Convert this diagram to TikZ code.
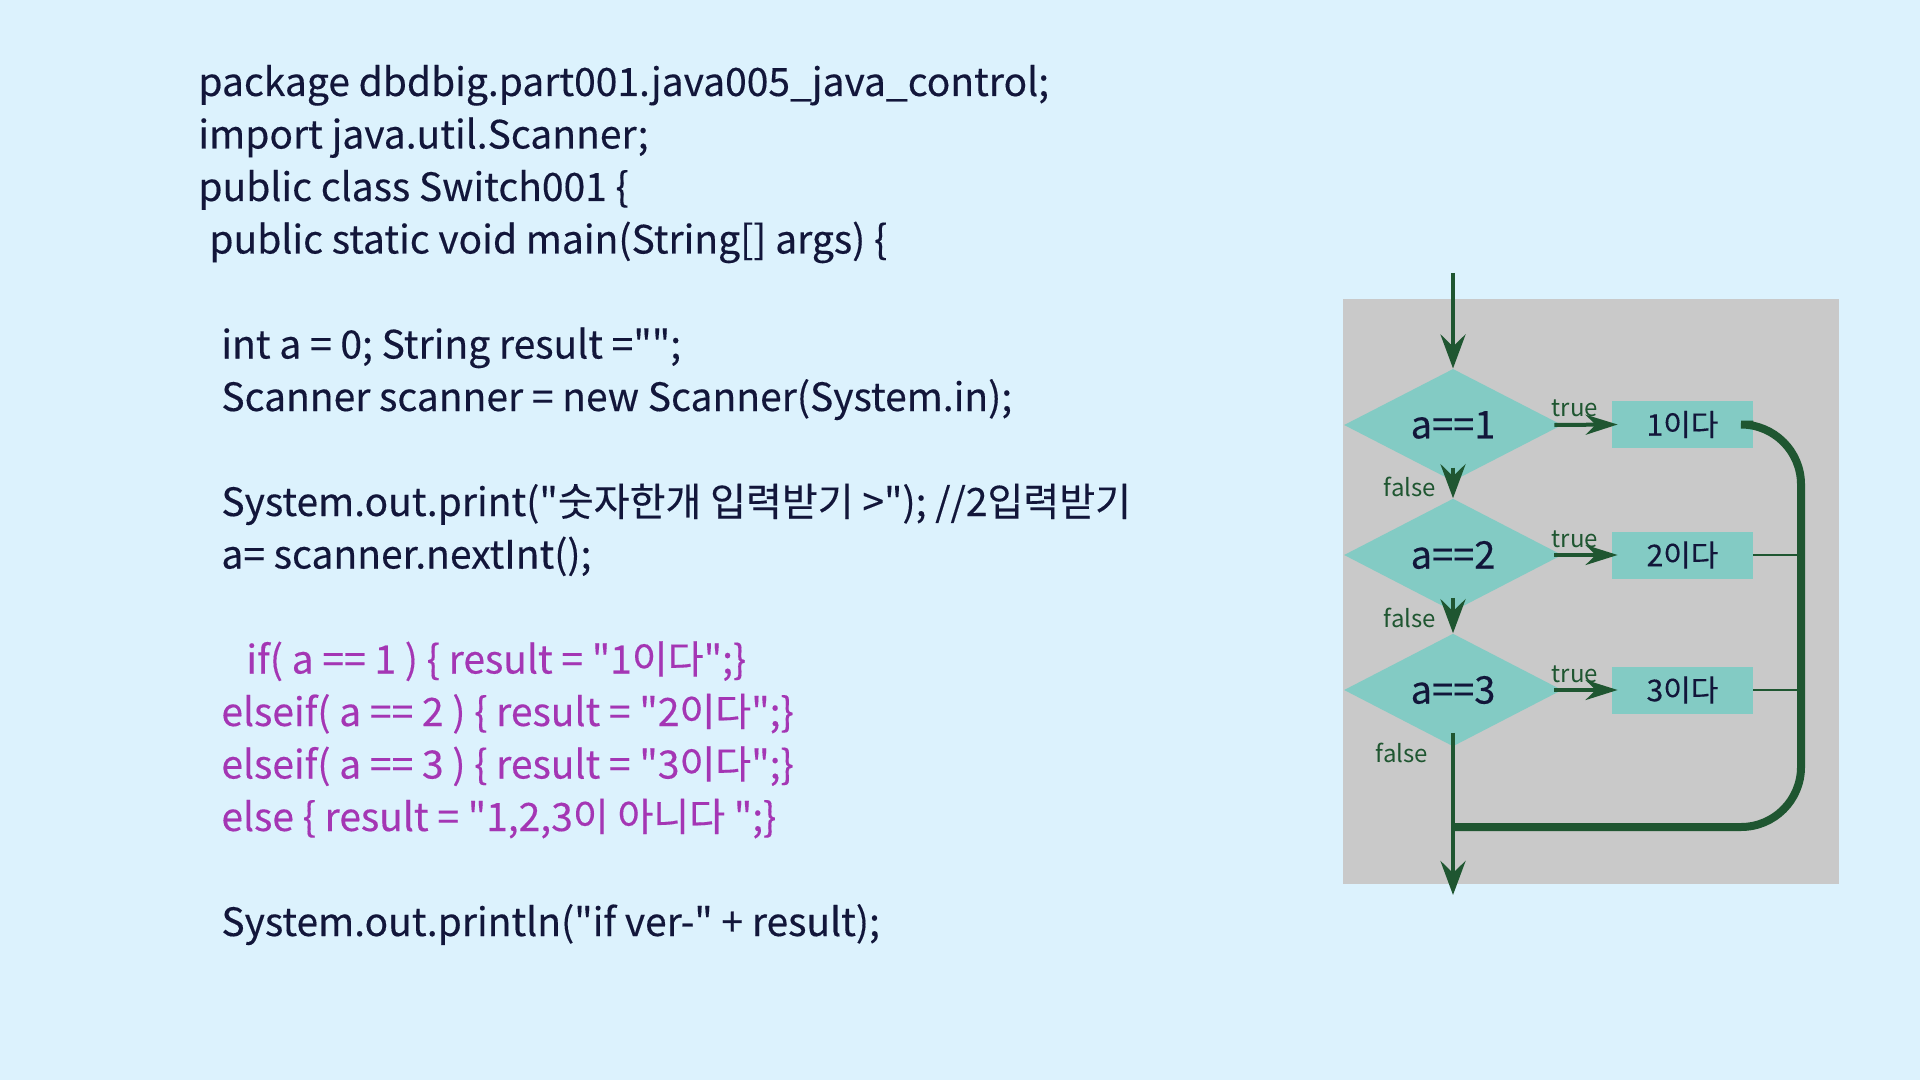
\documentclass[tikz,border=0pt]{standalone}
\usepackage{fontspec}
\newfontfamily\codefont{Noto Sans CJK KR}[FakeBold=0.3]
\newfontfamily\chartfont{Noto Sans CJK KR}
\usetikzlibrary{arrows.meta,shapes.geometric}
\definecolor{bgblue}{HTML}{DCF2FD}
\definecolor{navy}{HTML}{12163A}
\definecolor{purp}{HTML}{A436B4}
\definecolor{boxgray}{HTML}{C9C9C9}
\definecolor{tealfill}{HTML}{83CBC4}
\definecolor{dgreen}{HTML}{1F5631}
\begin{document}
\begin{tikzpicture}[x=0.5pt,y=-0.5pt,
  code/.style={anchor=base west,inner sep=0pt,font=\codefont\fontsize{19.5pt}{24pt}\selectfont,text=navy},
  codep/.style={code,text=purp},
  cond/.style={diamond,fill=tealfill,minimum width=109pt,minimum height=51.5pt,inner sep=0pt,font=\codefont\fontsize{19pt}{22pt}\selectfont,text=navy},
  res/.style={rectangle,fill=tealfill,minimum width=70.5pt,minimum height=23.5pt,inner sep=0pt,font=\codefont\fontsize{15pt}{18pt}\selectfont,text=navy},
  lbl/.style={inner sep=0pt,font=\chartfont\fontsize{12pt}{14pt}\selectfont,text=dgreen},
  flow/.style={draw=dgreen,line width=2.35pt,-{Stealth[length=17pt,width=12.5pt,inset=6pt]}},
  truearr/.style={draw=dgreen,line width=2pt,-{Stealth[length=16pt,width=10pt,inset=5pt]}},
  retline/.style={draw=dgreen,line width=4pt,rounded corners=30pt},
  thinline/.style={draw=dgreen,line width=1pt}
]
\fill[bgblue] (0,0) rectangle (1920,1080);
\useasboundingbox (0,0) rectangle (1920,1080);

% code
\node[code] (l1) at (198,96) {package dbdbig.part001.java005\_java\_control;};
\node[code] (l2) at (198,148.5) {import java.util.Scanner;};
\node[code] (l3) at (198,201) {public class Switch001 \{};
\node[code] (l4) at (209,253.5) {public static void main(String[] args) \{};
\node[code] (l5) at (221,358.5) {int a = 0; String result ="";};
\node[code] (l6) at (221,411) {Scanner scanner = new Scanner(System.in);};
\node[code] (l7) at (221,516) {System.out.print("숫자한개 입력받기 >"); //2입력받기};
\node[code] (l8) at (221,568.5) {a= scanner.nextInt();};
\node[codep] (l9) at (246,673.5) {if( a == 1 ) \{ result = "1이다";\}};
\node[codep] (l10) at (221,726) {elseif( a == 2 ) \{ result = "2이다";\}};
\node[codep] (l11) at (221,778.5) {elseif( a == 3 ) \{ result = "3이다";\}};
\node[codep] (l12) at (221,831) {else \{ result = "1,2,3이 아니다 ";\}};
\node[code] (l13) at (221,936) {System.out.println("if ver-" + result);};

% flowchart
\fill[boxgray] (1343,299) rectangle (1839,884);
\node[cond] (d1) at (1453,425) {a==1};
\node[cond] (d2) at (1453,555) {a==2};
\node[cond] (d3) at (1453,690) {a==3};
\node[res] (b1) at (1682.5,424.5) {1이다};
\node[res] (b2) at (1682.5,555) {2이다};
\node[res] (b3) at (1682.5,690) {3이다};

\coordinate (start) at (1453,273);
\coordinate (endp) at (1453,895);
\coordinate (rc) at (1801,827);
\coordinate (join) at (1453,827);

\draw[flow] (start) -- (d1.north);
\draw[flow] ([yshift=7pt]d1.south) -- (d2.north);
\draw[flow] ([yshift=7pt]d2.south) -- (d3.north);
\draw[flow] ([yshift=7pt]d3.south) -- (endp);

\draw[truearr] ([xshift=-4pt]d1.east) -- ([xshift=3pt]b1.west);
\draw[truearr] ([xshift=-4pt]d2.east) -- ([xshift=3pt]b2.west);
\draw[truearr] ([xshift=-4pt]d3.east) -- ([xshift=3pt]b3.west);

\draw[retline] (b1.east) -- (b1.east -| rc) -- (rc) -- (join);
\draw[thinline] (b2.east) -- (b2.east -| rc);
\draw[thinline] (b3.east) -- (b3.east -| rc);

\node[lbl] (t1) at (1575,408) {true};
\node[lbl] (t2) at (1575,539) {true};
\node[lbl] (t3) at (1575,674) {true};
\node[lbl] (f1) at (1410,487) {false};
\node[lbl] (f2) at (1410,618) {false};
\node[lbl] (f3) at (1402,753) {false};
\end{tikzpicture}
\end{document}
